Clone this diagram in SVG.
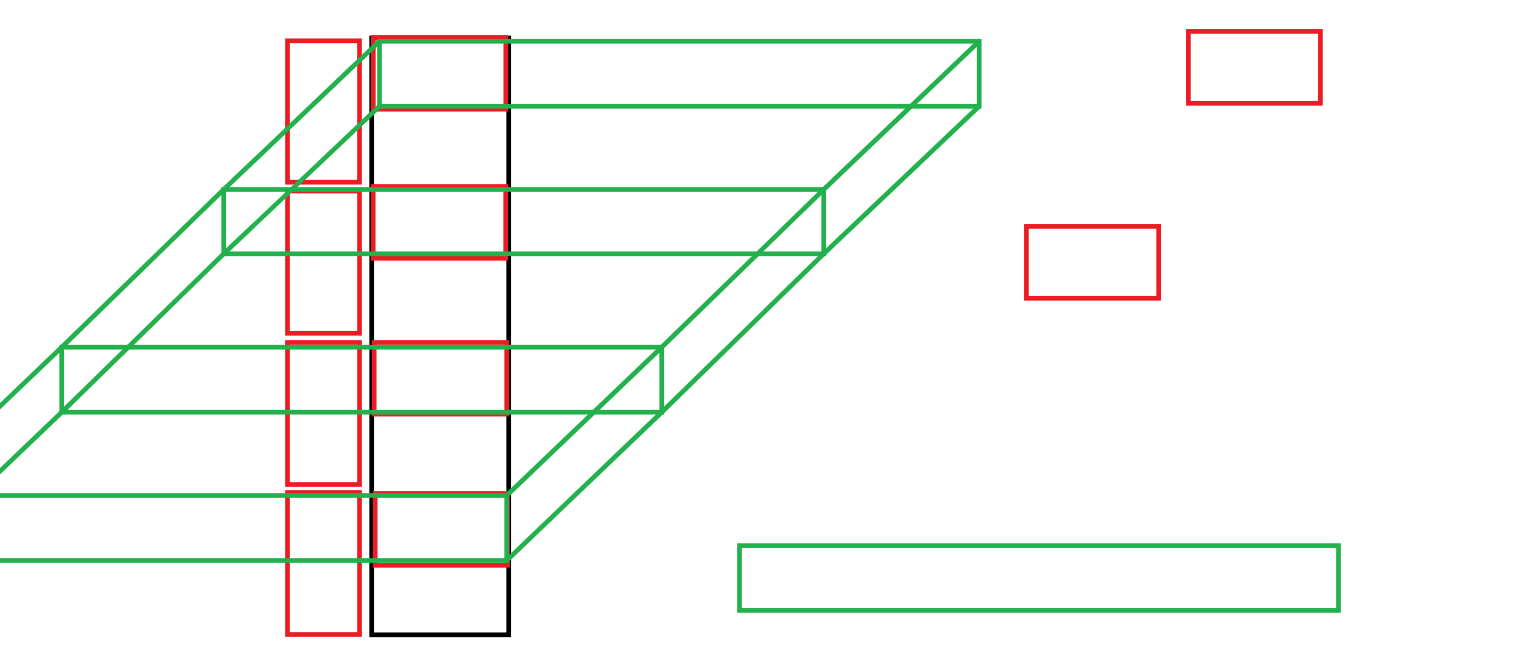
<svg xmlns="http://www.w3.org/2000/svg" width="1513" height="648" viewBox="0 0 1513 648">
<style>
.r{fill:none;stroke:#ED1C24;stroke-width:4.7}
.g{fill:none;stroke:#22B14C;stroke-width:4.7}
.k{fill:none;stroke:#000;stroke-width:4.7}
</style>
<rect width="1513" height="648" fill="#fff"/>
<g id="column"><rect class="k" x="371.7" y="38" width="137" height="596.8"/></g>
<g id="red-left-1"><rect class="r" x="287.5" y="40.8" width="72" height="141.4"/></g>
<g id="red-left-2"><rect class="r" x="287.5" y="191" width="72" height="142.3"/></g>
<g id="red-left-3"><rect class="r" x="287.5" y="342.5" width="72" height="142"/></g>
<g id="red-left-4"><rect class="r" x="287.5" y="492.5" width="72" height="142"/></g>
<g id="red-col-1"><rect class="r" x="373.3" y="37.5" width="132.5" height="71.7"/></g>
<g id="red-col-2"><rect class="r" x="373.2" y="186.5" width="132.5" height="71.8"/></g>
<g id="red-col-3"><rect class="r" x="374.2" y="342.5" width="132.5" height="71.6"/></g>
<g id="red-col-4"><rect class="r" x="375.2" y="493.5" width="132.3" height="71.8"/></g>
<g id="red-right-top"><rect class="r" x="1188.4" y="31.4" width="132" height="71.9"/></g>
<g id="red-right-mid"><rect class="r" x="1026.4" y="226.4" width="132.3" height="71.9"/></g>
<g id="green-1"><rect class="g" x="379.5" y="41.3" width="599.7" height="65"/></g>
<g id="green-2"><rect class="g" x="223.7" y="189.5" width="600" height="64.3"/></g>
<g id="green-3"><rect class="g" x="61.7" y="347.2" width="600" height="65"/></g>
<g id="green-4"><rect class="g" x="-93.3" y="495.5" width="600" height="65"/></g>
<g id="green-bottom"><rect class="g" x="739.5" y="545.6" width="599" height="64.8"/></g>
<g id="connectors" class="g">
<polyline class="g" points="379.5,41.3 223.7,189.5 61.7,347.2 -93.3,495.5"/>
<polyline class="g" points="379.5,106.3 223.7,253.8 61.7,412.2 -93.3,560.5"/>
<polyline class="g" points="979.2,41.3 823.7,189.5 661.7,347.2 506.7,495.5"/>
<polyline class="g" points="979.2,106.3 823.7,253.8 661.7,412.2 506.7,560.5"/>
</g>
</svg>
